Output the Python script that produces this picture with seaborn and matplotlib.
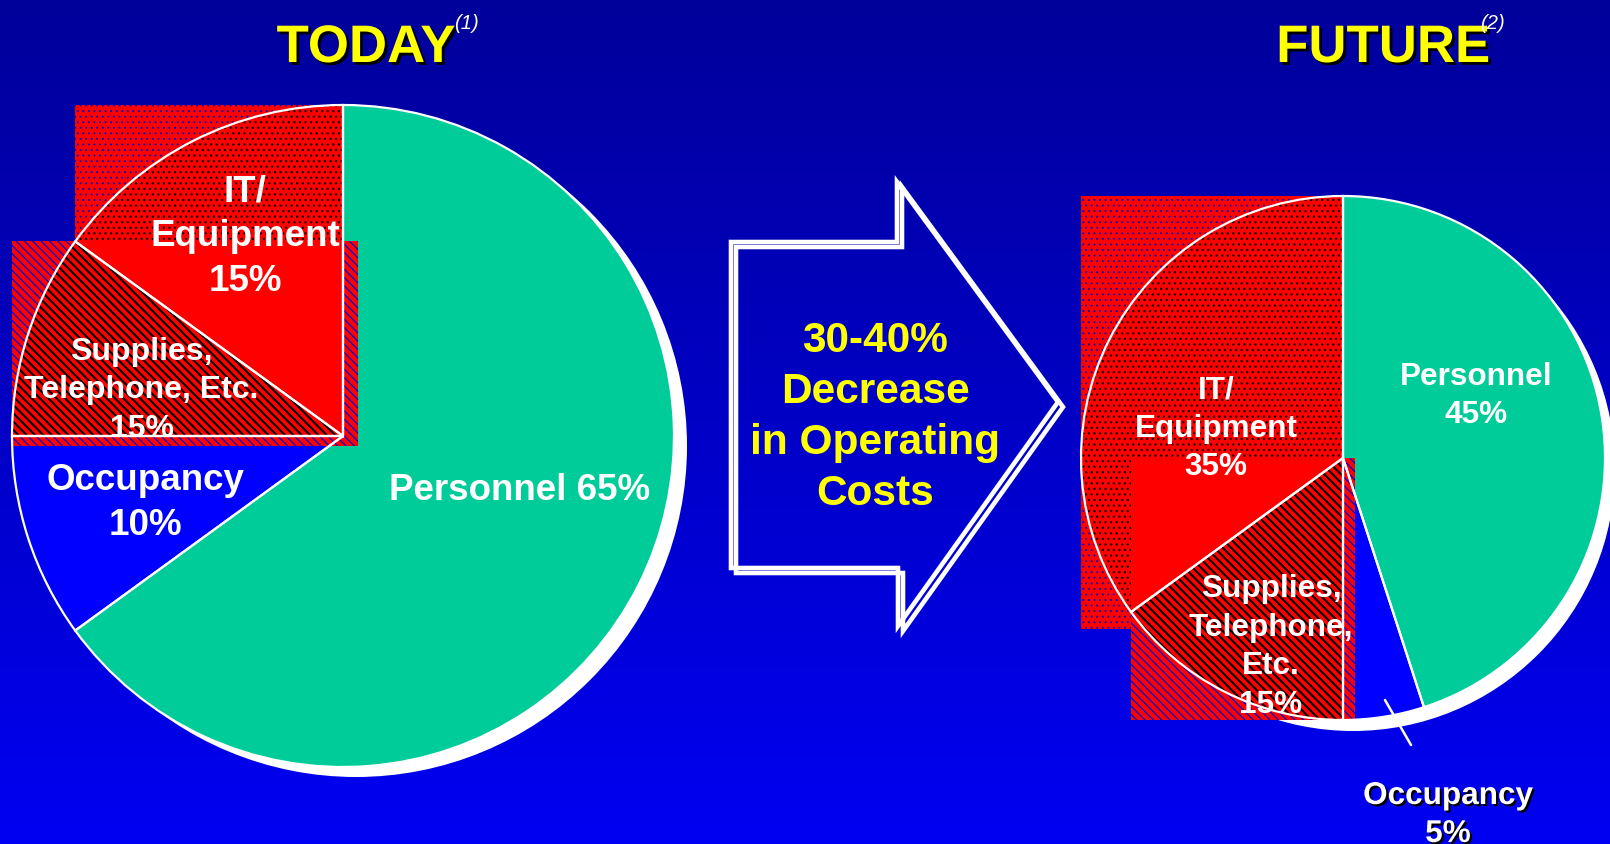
import numpy as np
import matplotlib
matplotlib.use("Agg")
import matplotlib.pyplot as plt
import matplotlib.patheffects as pe
from matplotlib.patches import Rectangle, Circle, Polygon, Wedge
from matplotlib.colors import LinearSegmentedColormap
import seaborn as sns

# ---------------- data ----------------
categories = ["Personnel", "Occupancy", "Supplies, Telephone, Etc.", "IT/Equipment"]
# slice sizes as drawn in the picture (clockwise from 12 o'clock)
today_share = [65, 10, 10, 15]
future_share = [45, 5, 15, 35]
today_labels = ["Personnel 65%", "Occupancy\n10%", "Supplies,\nTelephone, Etc.\n15%", "IT/\nEquipment\n15%"]
future_labels = ["Personnel\n45%", "Occupancy\n5%", "Supplies,\nTelephone,\nEtc.\n15%", "IT/\nEquipment\n35%"]
titles = ["TODAY", "FUTURE"]
title_notes = ["(1)", "(2)"]
arrow_lines = ["30-40%", "Decrease", "in Operating", "Costs"]

# ---------------- style ----------------
W, H = 1610, 845
TEAL, BLUE, RED = "#00CC99", "#0000FF", "#FF0000"
YELLOW = "#FFFF00"
sns.set_theme(style="white")
plt.rcParams["font.family"] = ["Liberation Sans", "DejaVu Sans"]
plt.rcParams["hatch.linewidth"] = 0.9
palette = sns.color_palette([TEAL, BLUE, RED, RED])

fig = plt.figure(figsize=(W / 100, H / 100), dpi=100)
ax = fig.add_axes([0, 0, 1, 1])


def Y(y):
    return H - y


def hatch_lw(patch, lw):
    if hasattr(patch, "set_hatch_linewidth"):
        patch.set_hatch_linewidth(lw)


DOTS = "..."
STRIPES = "\\\\\\\\"

# background gradient
grad = np.linspace(0, 1, 256).reshape(-1, 1)
bg = LinearSegmentedColormap.from_list("bg", ["#0000F2", "#00009A"])
ax.imshow(grad, extent=(0, W, 0, H), origin="lower", cmap=bg, aspect="auto", zorder=0)


def wedge_bbox(cx, cy, r, t1, t2):
    ang = np.radians(np.linspace(t1, t2, 400))
    xs = np.r_[cx, cx + r * np.cos(ang)]
    ys = np.r_[cy, cy + r * np.sin(ang)]
    return xs.min(), xs.max(), ys.min(), ys.max()


def draw_pie(values, cx, cy, r, shadow, sup_pad, it_pad):
    cy = Y(cy)
    ax.add_patch(Circle((cx + shadow[0], cy - shadow[1]), r, fc="white", ec="none", zorder=1))
    wedges, _ = ax.pie(values, colors=palette, startangle=90, counterclock=False,
                       center=(cx, cy), radius=r, frame=True,
                       wedgeprops=dict(linewidth=0))
    for w in wedges:
        w.set_zorder(3)
    sup, it = wedges[2], wedges[3]
    # IT bounding box (dotted)
    x0, x1, y0, y1 = wedge_bbox(cx, cy, r, it.theta1, it.theta2)
    irect = Rectangle((x0, y0 - it_pad), x1 - x0, y1 - y0 + it_pad, fc=RED, ec="#0000C0", lw=0,
                      hatch=DOTS, zorder=2)
    hatch_lw(irect, 0.6)
    ax.add_patch(irect)
    it.set_hatch(DOTS)
    it.set_edgecolor("#1a0000")
    hatch_lw(it, 0.9)
    sup.set_hatch(STRIPES)
    sup.set_edgecolor("black")
    hatch_lw(sup, 1.5)
    # supplies bounding box (striped)
    x0, x1, y0, y1 = wedge_bbox(cx, cy, r, sup.theta1, sup.theta2)
    srect = Rectangle((x0, y0 - sup_pad[1]), x1 - x0 + sup_pad[0], y1 - y0 + sup_pad[1],
                      fc=RED, ec="#0000D8", lw=0, hatch=STRIPES, zorder=4)
    hatch_lw(srect, 0.9)
    ax.add_patch(srect)
    itc = Wedge((cx, cy), r, it.theta1, it.theta2, fc=RED, ec="none", lw=0, zorder=5)
    ax.add_patch(itc)
    itc.set_clip_path(srect)
    sc = Wedge((cx, cy), r, sup.theta1, sup.theta2, fc=RED, ec="black", lw=0,
               hatch=STRIPES, zorder=5)
    hatch_lw(sc, 1.5)
    ax.add_patch(sc)
    for w in wedges:
        ax.add_patch(Wedge((cx, cy), r, w.theta1, w.theta2, fc="none", ec="white",
                           lw=1.6, zorder=6))
    return wedges


draw_pie(today_share, 343, 437, 331, (13, 10), (15, 10), 0)
draw_pie(future_share, 1343, 459, 262, (10, 11), (12, 0), 17)

# occupancy leader line (future pie)
ax.plot([1385, 1411], [Y(701), Y(746)], color="white", lw=1.8, zorder=7)


def put_block(text, x, first_base, pitch, size, shadow=False, color="white"):
    effects = [pe.withSimplePatchShadow(offset=(1.5, -1.5), shadow_rgbFace="black", alpha=1)] if shadow else None
    for i, line in enumerate(text.split("\n")):
        ax.text(x, Y(first_base + i * pitch), line, fontsize=size, color=color, ha="center",
                va="baseline", fontweight="bold", zorder=8, path_effects=effects)


# TODAY labels
put_block(today_labels[0], 520, 500, 0, 26.5)
put_block(today_labels[1], 145, 490, 45, 26.5)
put_block(today_labels[2], 141.5, 360, 38.5, 23)
put_block(today_labels[3], 245, 202, 44.5, 26.5)
# FUTURE labels
put_block(future_labels[0], 1476, 385, 38, 22.7)
put_block(future_labels[1], 1448, 805, 38, 22.7, shadow=True)
put_block(future_labels[2], 1271, 597, 38.7, 22.7)
put_block(future_labels[3], 1216, 399, 38, 22.7)

# titles
for t, n, xc, xn in zip(titles, title_notes, [366, 1383], [466, 1492]):
    ax.text(xc, Y(63), t, fontsize=38, color=YELLOW, fontweight="bold", ha="center",
            va="baseline", zorder=8,
            path_effects=[pe.withSimplePatchShadow(offset=(2, -2), shadow_rgbFace="black", alpha=1)])
    ax.text(xn, Y(29), n, fontsize=14.5, color="white", fontstyle="italic", ha="center",
            va="baseline", zorder=9)

# arrow (outline + offset shadow outline)
arrow_pts = np.array([(731, 243), (897, 243), (897, 183), (1058, 403), (898, 627),
                      (898, 569), (731, 569)], dtype=float)
for dx, dy in [(5, 5), (0, 0)]:
    pts = np.c_[arrow_pts[:, 0] + dx, H - (arrow_pts[:, 1] + dy)]
    ax.add_patch(Polygon(pts, closed=True, fc="none", ec="white", lw=3.3, joinstyle="miter",
                         zorder=6))
for i, line in enumerate(arrow_lines):
    ax.text(875, Y(352 + i * 51), line, fontsize=30.5, color=YELLOW, fontweight="bold",
            ha="center", va="baseline", zorder=8)

ax.set_xlim(0, W)
ax.set_ylim(0, H)
ax.set_aspect("auto")
ax.set_axis_off()
fig.savefig("out.png", dpi=100)
